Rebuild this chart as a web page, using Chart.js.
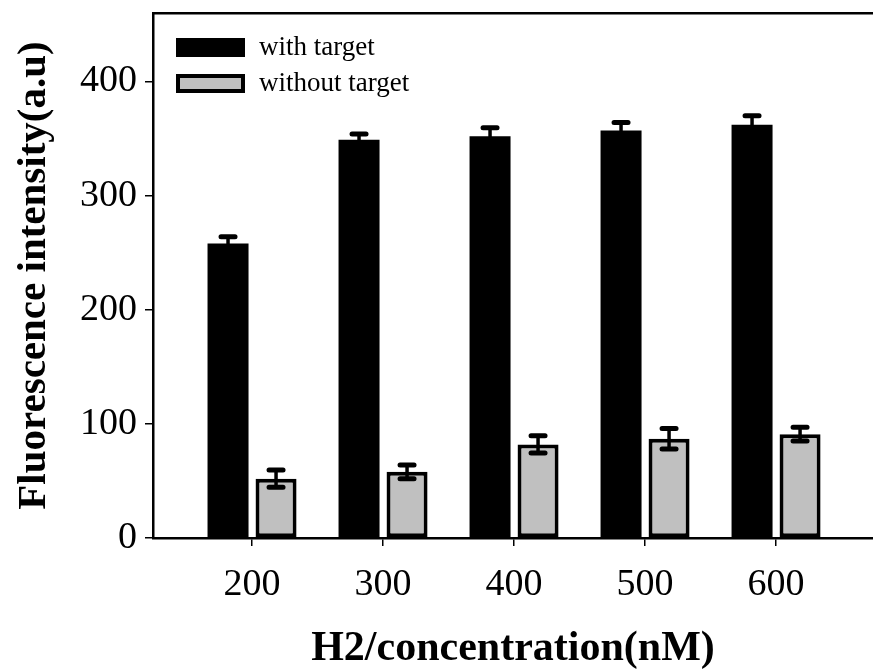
<!DOCTYPE html>
<html>
<head>
<meta charset="utf-8">
<script src="https://cdn.jsdelivr.net/npm/chart.js@4.4.0/dist/chart.umd.min.js"></script>
<style>
  html, body { margin: 0; padding: 0; background: #fff; }
  #wrap { width: 873px; height: 670px; }
</style>
</head>
<body>
<div id="wrap"><canvas id="chart" width="873" height="670"></canvas></div>
<script>
// H2 concentration (nM) on x, fluorescence intensity on y
const concentrations = [200, 300, 400, 500, 600];
const withTarget = [258, 349, 352, 357, 362];
const withTargetErr = [6, 5, 7.5, 7, 8];
const withoutTarget = [52, 58, 82, 87, 91];
const withoutTargetErr = [7.5, 6, 7.5, 9, 6];
const yTicks = [0, 100, 200, 300, 400];
const seriesNames = ['with target', 'without target'];

const SERIF = "'Liberation Serif', 'Times New Roman', serif";

const toPoints = (vals) => concentrations.map((c, i) => ({ x: c, y: vals[i] }));

// error bars: stem + caps on top of every bar
const errorBars = {
  id: 'errorBars',
  afterDatasetsDraw(chart) {
    const ctx = chart.ctx;
    const y = chart.scales.y;
    chart.data.datasets.forEach((ds, di) => {
      const meta = chart.getDatasetMeta(di);
      meta.data.forEach((bar, i) => {
        const v = ds.data[i].y, e = ds.errors[i];
        const top = y.getPixelForValue(v + e);
        const bot = y.getPixelForValue(v - e);
        ctx.save();
        ctx.strokeStyle = '#000';
        ctx.lineCap = 'round';
        ctx.lineWidth = 3.5;
        ctx.beginPath();
        ctx.moveTo(bar.x, top);
        ctx.lineTo(bar.x, bot);
        ctx.stroke();
        ctx.lineWidth = 5;
        ctx.beginPath();
        ctx.moveTo(bar.x - 7, top); ctx.lineTo(bar.x + 7, top);
        ctx.moveTo(bar.x - 7, bot); ctx.lineTo(bar.x + 7, bot);
        ctx.stroke();
        ctx.restore();
      });
    });
  }
};

// legend drawn inside the plot, top-left
const innerLegend = {
  id: 'innerLegend',
  afterDraw(chart) {
    const ctx = chart.ctx;
    const area = chart.chartArea;
    ctx.save();
    chart.data.datasets.forEach((ds, i) => {
      const bx = area.left + 23, by = area.top + 25 + i * 36;
      const bw = 69, bh = 19;
      ctx.fillStyle = ds.backgroundColor;
      ctx.fillRect(bx, by, bw, bh);
      if (ds.borderWidth) {
        ctx.lineWidth = ds.borderWidth;
        ctx.strokeStyle = ds.borderColor;
        ctx.strokeRect(bx + ds.borderWidth / 2, by + ds.borderWidth / 2,
          bw - ds.borderWidth, bh - ds.borderWidth);
      }
      ctx.fillStyle = '#000';
      ctx.font = '27px ' + SERIF;
      ctx.textBaseline = 'middle';
      ctx.textAlign = 'left';
      ctx.fillText(ds.label, bx + bw + 14, by + bh / 2);
    });
    ctx.restore();
  }
};

const tickGrid = { drawOnChartArea: false, drawTicks: true, tickLength: 8, color: '#000', lineWidth: 1.5, offset: false };
const axisBorder = { display: true, color: '#000', width: 2.5 };

new Chart(document.getElementById('chart'), {
  type: 'bar',
  data: {
    datasets: [
      {
        label: seriesNames[0],
        data: toPoints(withTarget),
        errors: withTargetErr,
        backgroundColor: '#000',
        borderWidth: 0
      },
      {
        label: seriesNames[1],
        data: toPoints(withoutTarget),
        errors: withoutTargetErr,
        backgroundColor: '#c0c0c0',
        borderColor: '#000',
        borderWidth: 4,
        borderSkipped: false
      }
    ]
  },
  options: {
    responsive: false,
    animation: false,
    devicePixelRatio: 1,
    categoryPercentage: 0.733,
    barPercentage: 0.854,
    layout: { padding: { top: 13, right: 0, left: 0, bottom: 0 } },
    plugins: { legend: { display: false }, tooltip: { enabled: false } },
    scales: {
      x: {
        type: 'linear',
        position: 'bottom',
        offset: false,
        min: 124.4,
        max: 674,
        afterBuildTicks: s => { s.ticks = concentrations.map(v => ({ value: v })); },
        afterFit: s => { s.height = 132; s.paddingLeft = 0; s.paddingRight = 0; },
        grid: tickGrid,
        border: axisBorder,
        ticks: { color: '#000', padding: 16, font: { family: SERIF, size: 38 } },
        title: {
          display: true,
          text: 'H2/concentration(nM)',
          color: '#000',
          padding: { top: 0, bottom: 0 },
          font: { family: SERIF, size: 42, weight: 'bold', lineHeight: 1.0 }
        }
      },
      xTop: {
        type: 'linear',
        position: 'top',
        min: 124.4,
        max: 674,
        afterFit: s => { s.height = 0; s.paddingLeft = 0; s.paddingRight = 0; },
        grid: { display: false },
        border: axisBorder,
        ticks: { display: false }
      },
      y: {
        min: 0,
        max: 460,
        afterBuildTicks: s => { s.ticks = yTicks.map(v => ({ value: v })); },
        afterFit: s => { s.width = 153; s.paddingTop = 0; s.paddingBottom = 0; },
        grid: tickGrid,
        border: axisBorder,
        ticks: { color: '#000', padding: 8, font: { family: SERIF, size: 38 } },
        title: {
          display: true,
          text: 'Fluorescence intensity(a.u)',
          color: '#000',
          padding: { top: 10, bottom: 0 },
          font: { family: SERIF, size: 41, weight: 'bold' }
        }
      }
    }
  },
  plugins: [errorBars, innerLegend]
});
</script>
</body>
</html>
